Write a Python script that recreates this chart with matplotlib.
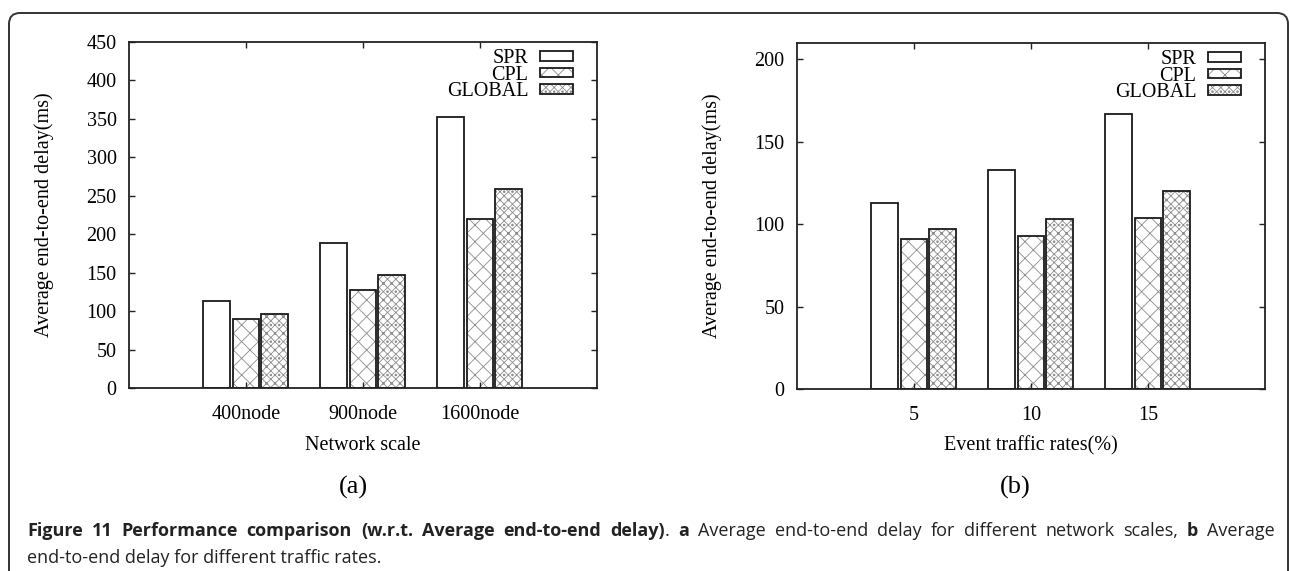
import matplotlib
matplotlib.use('Agg')
import matplotlib.pyplot as plt
import numpy as np
from matplotlib.patches import FancyBboxPatch
from matplotlib.transforms import IdentityTransform

# data
series = ['SPR', 'CPL', 'GLOBAL']
scale_labels = ['400node', '900node', '1600node']
scale_vals = {'SPR': [113, 188, 352], 'CPL': [90, 127, 220], 'GLOBAL': [96, 147, 259]}
rate_labels = ['5', '10', '15']
rate_vals = {'SPR': [113, 133, 167], 'CPL': [91, 93, 104], 'GLOBAL': [97, 103, 120]}

hatches = {'SPR': None, 'CPL': 'xx', 'GLOBAL': 'xxxx..'}
offsets = {'SPR': -0.25, 'CPL': 0.0, 'GLOBAL': 0.247}
width = 0.23

plt.rcParams['font.family'] = 'Liberation Serif'
plt.rcParams['hatch.linewidth'] = 0.6
plt.rcParams['font.size'] = 14.5

W, H = 1290, 571
fig = plt.figure(figsize=(W / 100, H / 100), dpi=100)


def panel(rect, cats, vals, ymax, yticks, xlabel):
    ax = fig.add_axes(rect)
    x = np.arange(len(cats))
    handles = []
    for s in series:
        if hatches[s]:
            hb = ax.bar(x + offsets[s], vals[s], width, color='white', hatch=hatches[s],
                        edgecolor='#8c8c8c', linewidth=0)
        else:
            hb = ax.bar(x + offsets[s], vals[s], width, color='white', linewidth=0)
        ob = ax.bar(x + offsets[s], vals[s], width, fill=False, edgecolor='#1a1a1a', linewidth=1.3)
        handles.append((hb.patches[0], ob.patches[0]))
    ax.set_xlim(-1, 3)
    ax.set_ylim(0, ymax)
    ax.set_yticks(yticks)
    ax.set_xticks(x)
    ax.set_xticklabels(cats)
    ax.tick_params(direction='in', length=4, width=1, top=True, right=True, labelsize=14.5, color='#222')
    ax.tick_params(axis='x', pad=12.5)
    ax.tick_params(axis='y', pad=9)
    for sp in ax.spines.values():
        sp.set_linewidth(1.3)
        sp.set_color('#222')
    ax.set_ylabel('Average end-to-end delay(ms)', fontsize=14.5)
    ax.yaxis.label.set_va('center')
    ax.yaxis.set_label_coords(-0.182, 0.5)
    ax.set_xlabel(xlabel, fontsize=14.5)
    ax.xaxis.label.set_va('center')
    ax.xaxis.set_label_coords(0.5, -0.165)
    ax.legend(handles, series, loc='upper right', bbox_to_anchor=(0.978, 1.02),
              frameon=False, markerfirst=False, fontsize=14.5, handlelength=1.6,
              handleheight=0.35, handletextpad=0.6, labelspacing=-0.12, borderpad=0.2)
    return ax


ax1 = panel([129 / W, 183 / H, 468 / W, 346 / H], scale_labels, scale_vals, 450,
            range(0, 451, 50), 'Network scale')
ax2 = panel([797 / W, 182 / H, 468 / W, 346 / H], rate_labels, rate_vals, 210,
            range(0, 201, 50), 'Event traffic rates(%)')

fig.text(353 / W, 1 - 487 / H, '(a)', fontsize=19, ha='center', va='center')
fig.text(1015 / W, 1 - 487 / H, '(b)', fontsize=19, ha='center', va='center')

# rounded frame around the figure
frame = FancyBboxPatch((9, -30), 1279, 588, boxstyle='round,pad=0,rounding_size=11',
                       transform=IdentityTransform(), fill=False, edgecolor='#333333',
                       linewidth=1.4)
fig.add_artist(frame)

# caption, first line justified with mixed weights
cap_font = dict(family='Open Sans', fontsize=13, color='#222222')
line1 = [[('Figure', 'bold')], [('11', 'bold')], [('Performance', 'bold')],
         [('comparison', 'bold')], [('(w.r.t.', 'bold')], [('Average', 'bold')],
         [('end-to-end', 'bold')], [('delay)', 'bold'), ('.', 'normal')],
         [('a', 'bold')], [('Average', 'normal')], [('end-to-end', 'normal')],
         [('delay', 'normal')], [('for', 'normal')], [('different', 'normal')],
         [('network', 'normal')], [('scales,', 'normal')], [('b', 'bold')],
         [('Average', 'normal')]]
renderer = fig.canvas.get_renderer()
y1 = 1 - 536 / H
words = []
for word in line1:
    parts = []
    for txt, wt in word:
        t = fig.text(0, y1, txt, fontweight=wt, va='baseline', ha='left', **cap_font)
        parts.append((t, t.get_window_extent(renderer).width))
    words.append(parts)
total = sum(w for parts in words for _, w in parts)
x0, x1 = 27, 1275
gap = (x1 - x0 - total) / (len(words) - 1)
xp = x0
for parts in words:
    for t, w in parts:
        t.set_x(xp / W)
        xp += w
    xp += gap

fig.text(27 / W, 1 - 563 / H, 'end-to-end delay for different traffic rates.',
         va='baseline', ha='left', **cap_font)

fig.savefig('out.png', dpi=100)
